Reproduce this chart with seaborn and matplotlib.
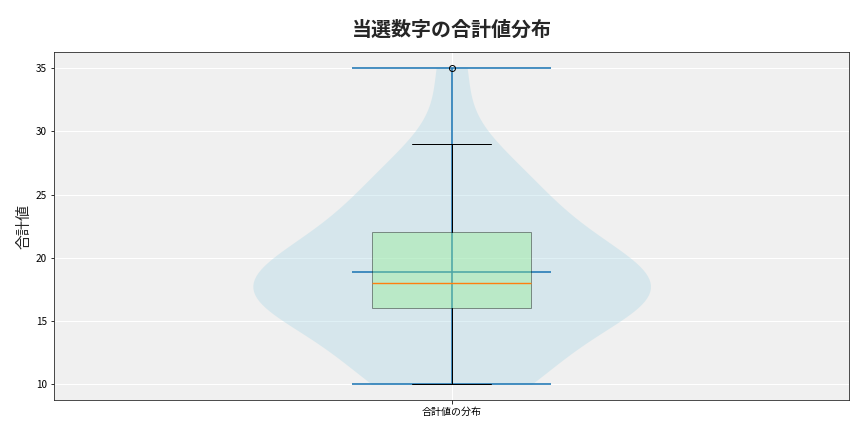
import numpy as np
import matplotlib
matplotlib.use('Agg')
import matplotlib.pyplot as plt
import seaborn as sns

# 合計値 (min 10, Q1 16, median 18, mean ~18.9, Q3 22, whisker 29, outlier 35)
sums = [10, 10, 11, 11, 12, 14, 15, 16, 16, 16, 17, 17, 17, 18, 18, 18, 18,
        19, 19, 21, 21, 22, 22, 22, 25, 25, 26, 27, 29, 35]
title = '当選数字の合計値分布'
ylabel = '合計値'
xlabel_tick = '合計値の分布'

sns.set_style('ticks')
plt.rcParams['font.family'] = ['Noto Sans CJK JP', 'DejaVu Sans']

fig, ax = plt.subplots(figsize=(12, 6), dpi=72)
fig.subplots_adjust(left=0.0625, right=0.983, top=0.879, bottom=0.074)
ax.set_facecolor('#f0f0f0')

# violin body
sns.violinplot(y=sums, ax=ax, cut=0, width=0.5, inner=None, color='lightblue',
               saturation=1, linewidth=0, alpha=0.38)

# violin extrema / mean lines
vals = np.array(sums)
ax.vlines(0, vals.min(), vals.max(), color='#1f77b4', alpha=0.8, lw=2, zorder=3)
ax.hlines([vals.min(), vals.mean(), vals.max()], -0.125, 0.125,
          color='#1f77b4', alpha=0.8, lw=2, zorder=3)

# box on top
bp = ax.boxplot(sums, positions=[0], widths=0.2, patch_artist=True, manage_ticks=False,
                boxprops=dict(facecolor='lightgreen', alpha=0.4),
                medianprops=dict(color='#ff7f0e', linewidth=1.4))
bp['boxes'][0].set_zorder(4)
for ln in bp['whiskers'] + bp['caps'] + bp['fliers']:
    ln.set_zorder(5)
for ln in bp['medians']:
    ln.set_zorder(6)

ax.set_xlim(-0.5, 0.5)
ax.set_ylim(8.75, 36.25)
ax.set_xticks([0])
ax.set_xticklabels([xlabel_tick], fontsize=10)
ax.tick_params(axis='both', labelsize=10, colors='black')
ax.grid(True, color='white', lw=1)
ax.set_axisbelow(True)
for s in ax.spines.values():
    s.set_visible(True)
    s.set_color('#222222')

ax.set_ylabel(ylabel, fontsize=15)
ax.set_xlabel('')
ax.set_title(title, fontsize=20, fontweight='bold', pad=16)

plt.savefig('out.png')
